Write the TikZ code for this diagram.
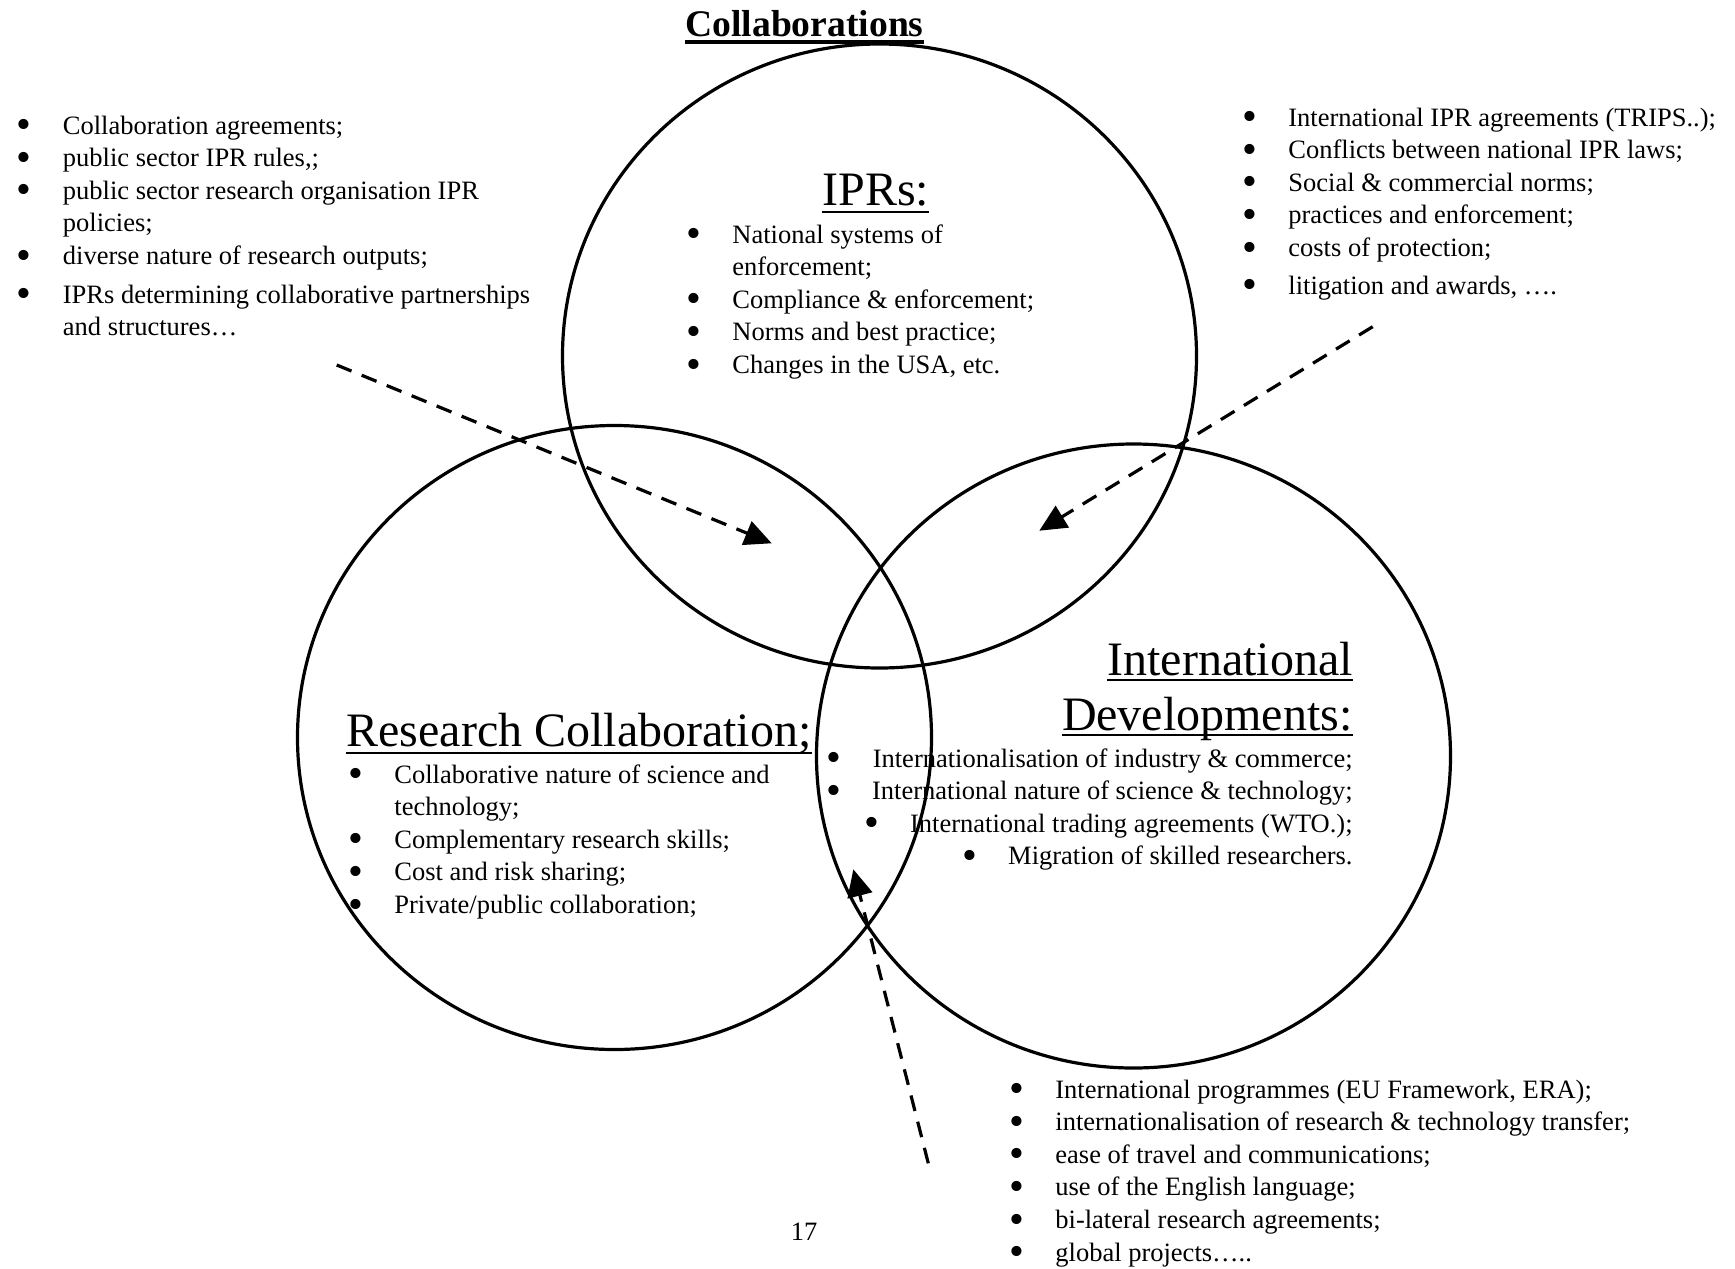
\documentclass[tikz,border=0pt]{standalone}
\usepackage{fontspec}
\usepackage{graphicx}
\setmainfont{Liberation Serif}
\usetikzlibrary{shapes.geometric,arrows.meta}

% underlined text: depth, thickness, text
\newcommand\undl[3]{\setbox0\hbox{#3}\rlap{\rule[-#1]{\wd0}{#2}}\box0}
\newcommand\bul{\smash{\raisebox{-0.18em}{\scalebox{1.6}{\textbullet}}}}
\newcommand\bodyfont{\fontsize{13.25}{16.3}\selectfont}
\newcommand\headfont{\fontsize{24}{27.5}\selectfont}

\tikzset{
	ring/.style={draw, line width=1.6pt, ellipse, minimum width=317pt, minimum height=312pt, inner sep=0pt},
	pointer/.style={line width=1.6pt, dash pattern=on 8pt off 5.5pt, -{Triangle[length=13.5pt,width=12.5pt]}},
	txt/.style={anchor=base west, inner sep=0pt},
}

\begin{document}
\begin{tikzpicture}[x=0.5pt,y=0.5pt,yscale=-1,xscale=1]
		\fill[white] (0,0) rectangle (1735,1269);
		\useasboundingbox (0,0) rectangle (1735,1269);

		%Shape: Circle [IPRs]
		\node[ring] (ipr) at (879.5,356) {};
		%Shape: Circle [Research Collaboration]
		\node[ring] (rc) at (614.5,737.5) {};
		%Shape: Circle [International Developments]
		\node[ring] (intl) at (1133.5,756) {};

		% Text Node
		\node[txt] (title) at (685,36) {\fontsize{18.8}{22}\selectfont\bfseries\undl{3.8pt}{1.6pt}{Collaborations}};
		% Text Node
		\node[txt] (iprhead) at (822,205) {\headfont\undl{4.1pt}{1.2pt}{IPRs:}};
		% Text Node
		\node[txt] (iprlist) at (686,243) {\bodyfont\begin{tabular}[t]{@{}p{23pt}@{}l@{}}
			\bul & National systems of\\
			 & enforcement;\\
			\bul & Compliance \& enforcement;\\
			\bul & Norms and best practice;\\
			\bul & Changes in the USA, etc.
		\end{tabular}};
		% Text Node
		\node[txt] (leftlist) at (16.5,134) {\bodyfont\begin{tabular}[t]{@{}p{23pt}@{}l@{}}
			\bul & Collaboration agreements;\\
			\bul & public sector IPR rules,;\\
			\bul & public sector research organisation IPR\\
			 & policies;\\
			\bul & diverse nature of research outputs;\\[3pt]
			\bul & IPRs determining collaborative partnerships\\
			 & and structures…
		\end{tabular}};
		% Text Node
		\node[txt] (rightlist) at (1242,126) {\bodyfont\begin{tabular}[t]{@{}p{23pt}@{}l@{}}
			\bul & International IPR agreements (TRIPS..);\\
			\bul & Conflicts between national IPR laws;\\
			\bul & Social \& commercial norms;\\
			\bul & practices and enforcement;\\
			\bul & costs of protection;\\[2.5pt]
			\bul & litigation and awards, ….
		\end{tabular}};
		% Text Node
		\node[txt] (rchead) at (346,746) {\headfont\undl{4.1pt}{1.2pt}{Research Collaboration;}};
		% Text Node
		\node[txt] (rclist) at (348,783) {\bodyfont\begin{tabular}[t]{@{}p{23pt}@{}l@{}}
			\bul & Collaborative nature of science and\\
			 & technology;\\
			\bul & Complementary research skills;\\
			\bul & Cost and risk sharing;\\
			\bul & Private/public collaboration;
		\end{tabular}};
		% Text Node
		\node[txt, anchor=base east] (intlhead) at (1353,675) {\headfont\begin{tabular}[t]{@{}r@{}}
			\undl{3pt}{1.2pt}{International}\\
			\undl{3pt}{1.2pt}{Developments:}
		\end{tabular}};
		% Text Node
		\node[txt, anchor=base east] (intllist) at (1353,767) {\bodyfont\begin{tabular}[t]{@{}r@{}}
			\makebox[23pt][l]{\bul}Internationalisation of industry \& commerce;\\
			\makebox[23pt][l]{\bul}International nature of science \& technology;\\
			\makebox[23pt][l]{\bul}International trading agreements (WTO.);\\
			\makebox[23pt][l]{\bul}Migration of skilled researchers.
		\end{tabular}};
		% Text Node
		\node[txt] (bottomlist) at (1009,1098) {\bodyfont\begin{tabular}[t]{@{}p{23pt}@{}l@{}}
			\bul & International programmes (EU Framework, ERA);\\
			\bul & internationalisation of research \& technology transfer;\\
			\bul & ease of travel and communications;\\
			\bul & use of the English language;\\
			\bul & bi-lateral research agreements;\\
			\bul & global projects…..
		\end{tabular}};
		% Text Node
		\node[txt, anchor=base] (pagenum) at (804,1240) {\bodyfont 17};

		%Straight Lines [dashed pointers]
		\coordinate (p1a) at (336.7,365);
		\coordinate (p1b) at (771.7,543.3);
		\coordinate (p2a) at (1372.7,326.7);
		\coordinate (p2b) at (1039.3,530.7);
		\coordinate (p3a) at (928.3,1163.3);
		\coordinate (p3b) at (853.3,869.3);
		\draw[pointer] (p1a) -- (p1b);
		\draw[pointer] (p2a) -- (p2b);
		\draw[pointer] (p3a) -- (p3b);

\end{tikzpicture}
\end{document}
